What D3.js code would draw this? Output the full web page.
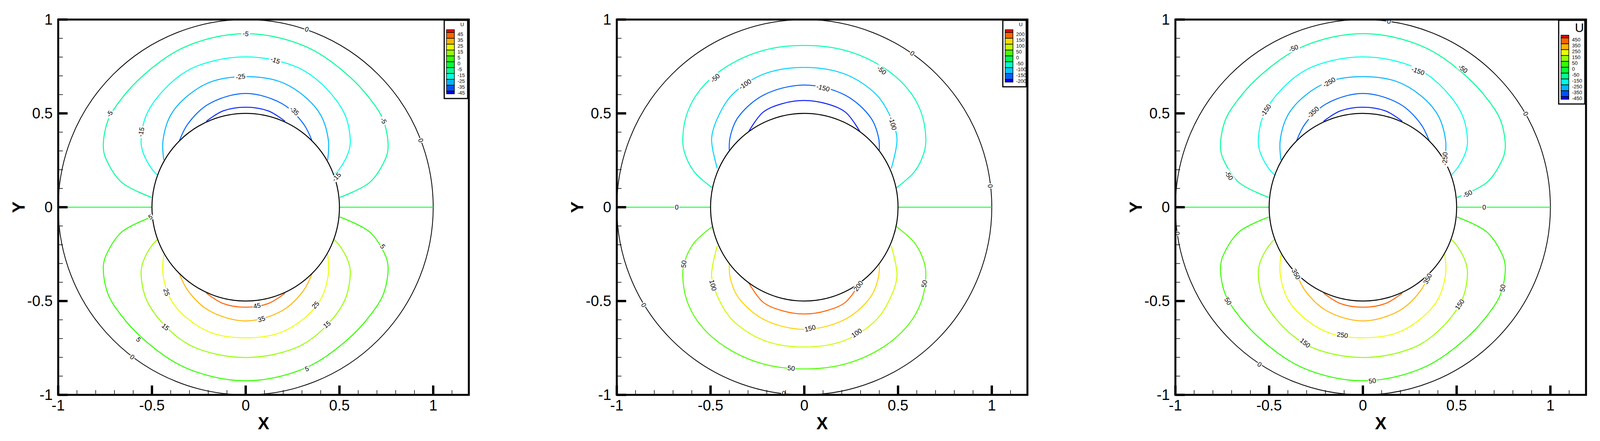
<!DOCTYPE html>
<html>
<head>
<meta charset="utf-8">
<script src="https://cdn.jsdelivr.net/npm/d3@7"></script>
<style>
  body { margin: 0; background: #fff; }
  text { font-family: "Liberation Sans", Arial, sans-serif; }
</style>
</head>
<body>
<div id="chart"></div>
<script>
// contour shapes, top-right quadrant (x, y), from inner circle to the x = 0 apex
const shapesA = [
  [[0.502,0.052],[0.66,0.131],[0.735,0.236],[0.759,0.311],[0.735,0.461],[0.66,0.581],[0.549,0.70],[0.363,0.835],[0.177,0.903],[0,0.925]],
  [[0.452,0.154],[0.502,0.206],[0.549,0.296],[0.558,0.356],[0.53,0.491],[0.437,0.625],[0.307,0.73],[0.158,0.783],[0,0.801]],
  [[0.437,0.251],[0.441,0.356],[0.40,0.491],[0.307,0.596],[0.177,0.671],[0,0.696]],
  [[0.353,0.356],[0.307,0.446],[0.195,0.551],[0,0.606]],
  [[0.21,0.458],[0.121,0.513],[0,0.533]]
]
const shapesB = [
  [[0.492,0.104],[0.589,0.191],[0.64,0.296],[0.648,0.371],[0.623,0.506],[0.556,0.625],[0.421,0.745],[0.22,0.835],[0,0.862]],
  [[0.464,0.206],[0.489,0.311],[0.494,0.371],[0.469,0.461],[0.388,0.596],[0.22,0.708],[0,0.745]],
  [[0.40,0.303],[0.396,0.371],[0.355,0.476],[0.22,0.596],[0,0.651]],
  [[0.296,0.404],[0.22,0.506],[0.12,0.551],[0,0.569]]
]

const levels1 = [-5,-15,-25,-35,-45]
const levels2 = [-50,-100,-150,-200]
const levels3 = [-50,-150,-250,-350,-450]

const negColors1 = ['#00ff96','#00ffe6','#00b4ff','#0064ff','#0a28ff']
const posColors1 = ['#32ff00','#96ff00','#ebff00','#ffb400','#ff6400']
const negColors2 = ['#00ffb4','#00d2ff','#0064ff','#0a1eff']
const posColors2 = ['#50ff00','#c8ff00','#ffd200','#ff6400']

const legendColors1 = ['#ff0000','#ff6400','#ffb400','#ebff00','#96ff00','#32ff00','#00ff32','#00ff96','#00ffe6','#00b4ff','#0050ff','#0000ff']
const legendLabels1 = ['45','35','25','15','5','0','-5','-15','-25','-35','-45']
const legendColors2 = ['#ff0000','#ff6400','#ffdc00','#c8ff00','#50ff00','#00ff50','#00ffc8','#00c8ff','#0064ff','#0000ff']
const legendLabels2 = ['200','150','100','50','0','-50','-100','-150','-200']
const legendLabels3 = ['450','350','250','150','50','0','-50','-150','-250','-350','-450']

// contour labels [text, x, y]
const labels1 = [['0',0.326,0.948],['0',0.934,0.356],['0',-0.605,-0.798],
  ['-5',0,0.925],['-5',-0.726,0.498],['-5',0.735,0.461],
  ['-15',0.158,0.783],['-15',-0.558,0.401],['-15',0.484,0.161],
  ['-25',-0.028,0.696],['-35',0.26,0.513],
  ['45',0.06,-0.525],['35',0.084,-0.596],['25',-0.422,-0.453],['25',0.372,-0.521],
  ['15',-0.428,-0.638],['15',0.433,-0.625],
  ['5',-0.571,-0.705],['5',0.326,-0.861],['5',0.731,-0.209],['5',-0.508,-0.052]]
const labels2 = [['0',-0.68,0],['0',0.576,0.82],['0',0.992,0.113],['0',-0.856,-0.521],['0',-0.11,-0.992],
  ['-50',0.413,0.73],['-50',-0.475,0.688],['-100',0.472,0.446],['-100',-0.316,0.655],['-150',0.1,0.636],
  ['50',-0.643,-0.303],['50',0.64,-0.408],['50',-0.07,-0.858],['100',-0.487,-0.416],['100',0.279,-0.67],
  ['150',0.031,-0.645],['200',0.288,-0.42]]
const labels3 = [['0',0.139,0.99],['0',0.869,0.498],['0',0.647,0],['0',-0.551,-0.838],['0',-0.99,-0.14],
  ['-50',-0.37,0.847],['-50',0.534,0.738],['-50',-0.714,0.169],['-50',0.558,0.071],
  ['-150',-0.518,0.516],['-150',0.294,0.726],['-250',-0.18,0.666],['-250',0.437,0.258],['-350',-0.266,0.506],
  ['350',-0.356,-0.356],['350',0.345,-0.381],['250',-0.109,-0.681],['150',-0.308,-0.723],['150',0.516,-0.518],
  ['50',-0.719,-0.501],['50',0.745,-0.431],['50',0.05,-0.925]]

const panels = [
  {left:149, shapes:shapesA, levels:levels1, neg:negColors1, pos:posColors1, legendColors:legendColors1, legendLabels:legendLabels1, labels:labels1, big:false},
  {left:1579, shapes:shapesB, levels:levels2, neg:negColors2, pos:posColors2, legendColors:legendColors2, legendLabels:legendLabels2, labels:labels2, big:false},
  {left:3009, shapes:shapesA, levels:levels3, neg:negColors1, pos:posColors1, legendColors:legendColors1, legendLabels:legendLabels3, labels:labels3, big:true}
]

const dimensions = {width:4114, height:1128, top:50, plotHeight:960, unit:480}

const svg = d3.select('#chart').append('svg')
  .attr('width', dimensions.width).attr('height', dimensions.height)

function fullPath (pts, sign) {
  const right = pts.map(p => [p[0], sign*p[1]])
  const left = pts.slice(0, -1).reverse().map(p => [-p[0], sign*p[1]])
  return right.concat(left)
}

panels.forEach(p => {
  const xScale = d3.scaleLinear().domain([-1, 1]).range([p.left, p.left + 2*dimensions.unit])
  const yScale = d3.scaleLinear().domain([-1, 1]).range([dimensions.top + dimensions.plotHeight, dimensions.top])
  const xMax = 1.19
  const g = svg.append('g')
  const line = d3.line().x(d => xScale(d[0])).y(d => yScale(d[1])).curve(d3.curveCatmullRom.alpha(0.5))

  // outer zero circle and the y = 0 zero line
  g.append('ellipse').attr('cx', xScale(0)).attr('cy', yScale(0))
    .attr('rx', xScale(1)-xScale(0)).attr('ry', yScale(0)-yScale(1))
    .attr('fill','none').attr('stroke','#000').attr('stroke-width',2)
  ;[[-1,-0.5],[0.5,1]].forEach(s => {
    g.append('line').attr('x1', xScale(s[0])).attr('x2', xScale(s[1]))
      .attr('y1', yScale(0)).attr('y2', yScale(0))
      .attr('stroke','#1eff3c').attr('stroke-width',2.5)
  })

  const allLines = []
  p.shapes.forEach((pts, i) => {
    const top = fullPath(pts, 1), bot = fullPath(pts, -1)
    g.append('path').attr('d', line(top)).attr('fill','none').attr('stroke', p.neg[i]).attr('stroke-width',2.5)
    g.append('path').attr('d', line(bot)).attr('fill','none').attr('stroke', p.pos[i]).attr('stroke-width',2.5)
    allLines.push({v: p.levels[i], pts: top}, {v: -p.levels[i], pts: bot})
  })

  // inner cylinder
  g.append('ellipse').attr('cx', xScale(0)).attr('cy', yScale(0))
    .attr('rx', xScale(0.5)-xScale(0)).attr('ry', yScale(0)-yScale(0.5))
    .attr('fill','#fff').attr('stroke','#000').attr('stroke-width',2.5)

  // contour labels, rotated along the line
  p.labels.forEach(l => {
    const px = xScale(l[1]), py = yScale(l[2])
    let ang = 0
    if (l[0] === '0') {
      if (Math.abs(l[2]) > 0.02) ang = Math.atan2(px - xScale(0), -(py - yScale(0))) * 180/Math.PI
    } else {
      const ln = allLines.find(d => String(d.v) === l[0])
      let best = Infinity
      if (ln) ln.pts.forEach((q, k) => {
        if (k === 0) return
        const a = [xScale(ln.pts[k-1][0]), yScale(ln.pts[k-1][1])], b = [xScale(q[0]), yScale(q[1])]
        const dist = Math.hypot((a[0]+b[0])/2 - px, (a[1]+b[1])/2 - py)
        if (dist < best) { best = dist; ang = Math.atan2(b[1]-a[1], b[0]-a[0]) * 180/Math.PI }
      })
    }
    while (ang > 90) ang -= 180
    while (ang <= -90) ang += 180
    const lg = g.append('g').attr('transform', `translate(${px},${py}) rotate(${ang})`)
    const w = l[0].length * 9 + 4
    lg.append('rect').attr('x', -w/2).attr('y', -8).attr('width', w).attr('height', 16).attr('fill','#fff')
    lg.append('text').attr('text-anchor','middle').attr('dy','0.35em').attr('font-size',17).text(l[0])
  })

  // frame
  const x0 = xScale(-1), x1 = xScale(xMax), y0 = yScale(-1), y1 = yScale(1)
  g.append('rect').attr('x', x0).attr('y', y1).attr('width', x1-x0).attr('height', y0-y1)
    .attr('fill','none').attr('stroke','#000').attr('stroke-width',5)

  // ticks
  const ticks = d3.range(-10, 12).map(d => d/10)
  ticks.forEach(t => {
    const major = Math.abs(t*2 - Math.round(t*2)) < 1e-6
    g.append('line').attr('x1', xScale(t)).attr('x2', xScale(t))
      .attr('y1', y0).attr('y2', y0 - (major ? 24 : 12))
      .attr('stroke','#000').attr('stroke-width', major ? 6 : 1.5)
    if (t <= 1) g.append('line').attr('y1', yScale(t)).attr('y2', yScale(t))
      .attr('x1', x0).attr('x2', x0 + (major ? 24 : 12))
      .attr('stroke','#000').attr('stroke-width', major ? 6 : 1.5)
  })
  const fmt = d => d === 0 ? '0' : String(d)
  ;[-1,-0.5,0,0.5,1].forEach(t => {
    g.append('text').attr('x', xScale(t)).attr('y', y0 + 40).attr('text-anchor','middle')
      .attr('font-size',38).text(fmt(t))
    g.append('text').attr('x', x0 - 14).attr('y', yScale(t)).attr('dy','0.35em').attr('text-anchor','end')
      .attr('font-size',38).text(fmt(t))
  })
  g.append('text').attr('x', (x0+x1)/2).attr('y', y0 + 88).attr('text-anchor','middle')
    .attr('font-size',44).attr('font-weight','bold').text('X')
  g.append('text').attr('transform', `translate(${x0 - 86},${(y0+y1)/2}) rotate(-90)`).attr('text-anchor','middle')
    .attr('font-size',44).attr('font-weight','bold').text('Y')

  // legend
  const lw = p.big ? 67 : 60
  const lx = x1 - lw - 3, ly = y1 + 2
  const headH = p.big ? 38 : 24
  const rowH = 15, thin = 7
  const n = p.legendColors.length
  const lh = headH + thin*2 + rowH*(n-2) + 12
  const leg = g.append('g')
  leg.append('rect').attr('x', lx).attr('y', ly).attr('width', lw).attr('height', lh)
    .attr('fill','#fff').attr('stroke','#000').attr('stroke-width',3)
  leg.append('text').attr('x', lx + lw - 14).attr('y', ly + (p.big ? 30 : 15)).attr('text-anchor','middle')
    .attr('font-size', p.big ? 32 : 13).text('U')
  let yy = ly + headH
  p.legendColors.forEach((c, i) => {
    const h = (i === 0 || i === n-1) ? thin : rowH
    leg.append('rect').attr('x', lx + 6).attr('y', yy).attr('width', 20).attr('height', h)
      .attr('fill', c).attr('stroke','#000').attr('stroke-width',1.5)
    if (i < p.legendLabels.length) {
      leg.append('text').attr('x', lx + 34).attr('y', yy + h + 4).attr('dy','0.35em')
        .attr('font-size', 13).text(p.legendLabels[i])
    }
    yy += h
  })
})
</script>
</body>
</html>
